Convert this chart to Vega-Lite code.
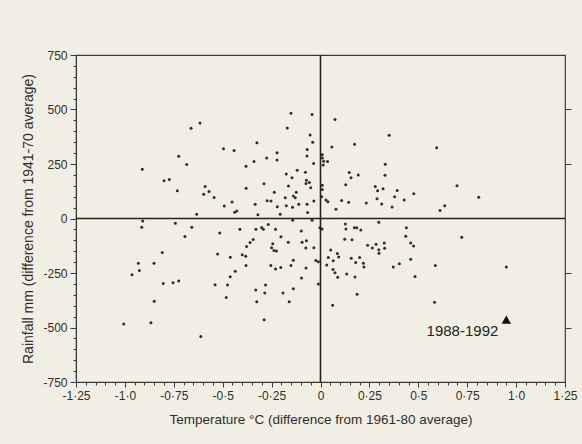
{
  "$schema": "https://vega.github.io/schema/vega-lite/v6.json",
  "width": 489,
  "height": 327,
  "autosize": "none",
  "padding": {"left": 76, "top": 55, "right": 17, "bottom": 62},
  "background": "#f1efe3",
  "config": {
    "view": {"stroke": "#3a3a3a", "strokeWidth": 1.2},
    "font": "Liberation Sans",
    "axis": {
      "domainColor": "#3a3a3a",
      "tickColor": "#3a3a3a",
      "labelColor": "#2e2e2e",
      "titleColor": "#2e2e2e",
      "labelFont": "Liberation Sans",
      "titleFont": "Liberation Sans",
      "labelFontSize": 12,
      "titleFontSize": 13.5,
      "titleFontWeight": "normal",
      "grid": false,
      "labelFlush": false,
      "labelOverlap": false
    }
  },
  "datasets": {
    "pts": [
      {"t": -0.911, "r": 226}, {"t": -0.662, "r": 414}, {"t": -0.616, "r": 438}, {"t": -0.725, "r": 286},
      {"t": -0.684, "r": 248}, {"t": -0.800, "r": 173}, {"t": -0.773, "r": 179}, {"t": -0.732, "r": 127},
      {"t": -0.590, "r": 147}, {"t": -0.570, "r": 124}, {"t": -0.597, "r": 111}, {"t": -0.544, "r": 96},
      {"t": -0.633, "r": 19}, {"t": -0.496, "r": 320}, {"t": -0.442, "r": 312}, {"t": -0.325, "r": 348},
      {"t": -0.381, "r": 240}, {"t": -0.340, "r": 262}, {"t": -0.275, "r": 277}, {"t": -0.222, "r": 302},
      {"t": -0.222, "r": 268}, {"t": -0.289, "r": 159}, {"t": -0.380, "r": 139}, {"t": -0.492, "r": 57},
      {"t": -0.452, "r": 76}, {"t": -0.439, "r": 29}, {"t": -0.428, "r": 34}, {"t": -0.334, "r": 65},
      {"t": -0.273, "r": 81}, {"t": -0.253, "r": 80}, {"t": -0.236, "r": 120}, {"t": -0.221, "r": 54},
      {"t": -0.320, "r": 17}, {"t": -0.206, "r": 19}, {"t": -0.151, "r": 483}, {"t": -0.170, "r": 415},
      {"t": -0.043, "r": 477}, {"t": -0.053, "r": 383}, {"t": -0.040, "r": 350}, {"t": -0.068, "r": 316},
      {"t": -0.069, "r": 287}, {"t": -0.035, "r": 252}, {"t": -0.175, "r": 204}, {"t": -0.119, "r": 221},
      {"t": -0.146, "r": 187}, {"t": -0.164, "r": 149}, {"t": -0.077, "r": 212}, {"t": -0.072, "r": 176},
      {"t": -0.057, "r": 165}, {"t": -0.050, "r": 141}, {"t": -0.074, "r": 160}, {"t": -0.180, "r": 95},
      {"t": -0.139, "r": 103}, {"t": -0.124, "r": 120}, {"t": -0.129, "r": 95}, {"t": -0.175, "r": 59},
      {"t": -0.143, "r": 52}, {"t": -0.111, "r": 65}, {"t": -0.069, "r": 65}, {"t": -0.066, "r": 27},
      {"t": -0.034, "r": 80},
      {"t": 0.009, "r": 293}, {"t": 0.010, "r": 277}, {"t": 0.036, "r": 262}, {"t": 0.016, "r": 263},
      {"t": 0.014, "r": 245}, {"t": 0.009, "r": 153}, {"t": 0.009, "r": 133}, {"t": 0.006, "r": 100},
      {"t": 0.074, "r": 454}, {"t": 0.351, "r": 382}, {"t": 0.174, "r": 341}, {"t": 0.058, "r": 328},
      {"t": 0.594, "r": 324}, {"t": 0.331, "r": 249}, {"t": 0.147, "r": 211}, {"t": 0.193, "r": 200},
      {"t": 0.156, "r": 187}, {"t": 0.330, "r": 198}, {"t": 0.129, "r": 155}, {"t": 0.280, "r": 147},
      {"t": 0.292, "r": 127}, {"t": 0.320, "r": 136}, {"t": 0.392, "r": 129}, {"t": 0.477, "r": 114},
      {"t": 0.379, "r": 100}, {"t": 0.289, "r": 91}, {"t": 0.428, "r": 85}, {"t": 0.028, "r": 85},
      {"t": 0.038, "r": 77}, {"t": 0.108, "r": 83}, {"t": 0.144, "r": 75}, {"t": 0.234, "r": 71},
      {"t": 0.313, "r": 66}, {"t": 0.366, "r": 53}, {"t": 0.079, "r": 43}, {"t": 0.611, "r": 37},
      {"t": 0.635, "r": 59}, {"t": 0.698, "r": 150}, {"t": 0.809, "r": 98},
      {"t": -0.909, "r": -11}, {"t": -0.914, "r": -40}, {"t": -0.742, "r": -22}, {"t": -0.658, "r": -40},
      {"t": -0.693, "r": -83}, {"t": -0.515, "r": -67}, {"t": -0.412, "r": -49}, {"t": -0.330, "r": -49},
      {"t": -0.301, "r": -41}, {"t": -0.292, "r": -49}, {"t": -0.267, "r": -27}, {"t": -0.230, "r": -49},
      {"t": -0.142, "r": -8}, {"t": -0.043, "r": -8}, {"t": -0.003, "r": -42}, {"t": -0.098, "r": -57},
      {"t": -0.202, "r": -84}, {"t": -0.165, "r": -109}, {"t": -0.344, "r": -96}, {"t": -0.360, "r": -110},
      {"t": -0.378, "r": -129}, {"t": -0.244, "r": -116}, {"t": -0.250, "r": -134}, {"t": -0.238, "r": -147},
      {"t": -0.225, "r": -149}, {"t": -0.094, "r": -109}, {"t": -0.072, "r": -102}, {"t": -0.075, "r": -135},
      {"t": -0.034, "r": -134}, {"t": -0.809, "r": -156}, {"t": -0.526, "r": -163}, {"t": -0.400, "r": -166},
      {"t": -0.382, "r": -173}, {"t": -0.461, "r": -178}, {"t": -0.381, "r": -216}, {"t": -0.254, "r": -216},
      {"t": -0.230, "r": -232}, {"t": -0.203, "r": -225}, {"t": -0.151, "r": -216}, {"t": -0.139, "r": -192},
      {"t": -0.024, "r": -193}, {"t": -0.074, "r": -227}, {"t": -0.931, "r": -205}, {"t": -0.926, "r": -239},
      {"t": -0.964, "r": -258}, {"t": -0.851, "r": -205}, {"t": -0.436, "r": -242}, {"t": -0.462, "r": -267},
      {"t": -0.097, "r": -273}, {"t": -0.804, "r": -298}, {"t": -0.754, "r": -295}, {"t": -0.725, "r": -287},
      {"t": -0.539, "r": -304}, {"t": -0.475, "r": -305}, {"t": -0.281, "r": -305}, {"t": -0.331, "r": -328},
      {"t": -0.285, "r": -342}, {"t": -0.139, "r": -322}, {"t": -0.192, "r": -342}, {"t": -0.482, "r": -362},
      {"t": -0.326, "r": -382}, {"t": -0.160, "r": -382}, {"t": -0.850, "r": -380}, {"t": -1.006, "r": -484},
      {"t": -0.867, "r": -478}, {"t": -0.288, "r": -465}, {"t": -0.612, "r": -541}, {"t": -0.011, "r": -198},
      {"t": -0.011, "r": -301},
      {"t": 0.127, "r": -25}, {"t": 0.130, "r": -48}, {"t": 0.173, "r": -43}, {"t": 0.185, "r": -43},
      {"t": 0.206, "r": -53}, {"t": 0.298, "r": -17}, {"t": 0.008, "r": -48}, {"t": 0.124, "r": -95},
      {"t": 0.161, "r": -98}, {"t": 0.439, "r": -43}, {"t": 0.436, "r": -81}, {"t": 0.461, "r": -112},
      {"t": 0.476, "r": -126}, {"t": 0.241, "r": -123}, {"t": 0.265, "r": -135}, {"t": 0.284, "r": -118},
      {"t": 0.298, "r": -143}, {"t": 0.326, "r": -112}, {"t": 0.328, "r": -136}, {"t": 0.299, "r": -159},
      {"t": 0.052, "r": -144}, {"t": 0.086, "r": -161}, {"t": 0.040, "r": -179}, {"t": 0.093, "r": -177},
      {"t": 0.065, "r": -194}, {"t": 0.032, "r": -213}, {"t": 0.157, "r": -182}, {"t": 0.200, "r": -179},
      {"t": 0.180, "r": -202}, {"t": 0.219, "r": -205}, {"t": 0.222, "r": -223}, {"t": 0.461, "r": -187},
      {"t": 0.403, "r": -207}, {"t": 0.372, "r": -223}, {"t": 0.587, "r": -216}, {"t": 0.064, "r": -234},
      {"t": 0.074, "r": -249}, {"t": 0.088, "r": -269}, {"t": 0.134, "r": -255}, {"t": 0.176, "r": -268},
      {"t": 0.483, "r": -266}, {"t": 0.187, "r": -347}, {"t": 0.062, "r": -398}, {"t": 0.583, "r": -384},
      {"t": 0.722, "r": -86}, {"t": 0.950, "r": -222}
    ],
    "period": [{"t": 0.95, "r": -464, "label": "1988-1992"}],
    "origin": [{"t": 0, "r": 0}]
  },
  "layer": [
    {
      "data": {"name": "pts"},
      "mark": {"type": "circle", "size": 9, "color": "#2e2e2e", "opacity": 1},
      "encoding": {
        "x": {
          "field": "t", "type": "quantitative",
          "scale": {"domain": [-1.25, 1.25], "nice": false, "zero": false},
          "axis": {
            "orient": "bottom",
            "title": "Temperature °C (difference from 1961-80 average)",
            "values": [-1.25, -1, -0.75, -0.5, -0.25, 0, 0.25, 0.5, 0.75, 1, 1.25],
            "labelExpr": "datum.value == 0 ? '0' : (abs(datum.value) == 1 ? (datum.value < 0 ? '-1·0' : '1·0') : replace(toString(datum.value), '.', '·'))",
            "tickSize": 5,
            "labelPadding": 3,
            "titlePadding": 11
          }
        },
        "y": {
          "field": "r", "type": "quantitative",
          "scale": {"domain": [-750, 750], "nice": false, "zero": false},
          "axis": {
            "orient": "left",
            "title": "Rainfall mm (difference from 1941-70 average)",
            "titleFontSize": 14,
            "values": [-750, -500, -250, 0, 250, 500, 750],
            "labelExpr": "toString(datum.value)",
            "tickSize": 6,
            "labelPadding": 3,
            "titlePadding": 7
          }
        }
      }
    },
    {
      "data": {"name": "origin"},
      "mark": {"type": "rule", "color": "#222222", "strokeWidth": 1.6},
      "encoding": {
        "x": {
          "field": "t", "type": "quantitative",
          "axis": {
            "orient": "bottom", "title": null, "labels": false, "domain": false, "tickSize": 3,
            "values": [-1.2, -1.15, -1.1, -1.05, -0.95, -0.9, -0.85, -0.8, -0.7, -0.65, -0.6, -0.55, -0.45, -0.4, -0.35, -0.3, -0.2, -0.15, -0.1, -0.05, 0.05, 0.1, 0.15, 0.2, 0.3, 0.35, 0.4, 0.45, 0.55, 0.6, 0.65, 0.7, 0.8, 0.85, 0.9, 0.95, 1.05, 1.1, 1.15, 1.2]
          }
        }
      }
    },
    {
      "data": {"name": "origin"},
      "mark": {"type": "rule", "color": "#222222", "strokeWidth": 1.6},
      "encoding": {
        "y": {
          "field": "r", "type": "quantitative",
          "axis": {
            "orient": "left", "title": null, "labels": false, "domain": false, "tickSize": 3,
            "values": [-700, -650, -600, -550, -450, -400, -350, -300, -200, -150, -100, -50, 50, 100, 150, 200, 300, 350, 400, 450, 550, 600, 650, 700]
          }
        }
      }
    },
    {
      "data": {"name": "period"},
      "mark": {"type": "point", "shape": "triangle-up", "filled": true, "size": 90, "color": "#111111", "opacity": 1},
      "encoding": {
        "x": {"field": "t", "type": "quantitative", "axis": null},
        "y": {
          "field": "r", "type": "quantitative",
          "axis": {"orient": "right", "values": [-500, -250, 250, 500], "labels": false, "title": null, "tickSize": 6, "domain": false}
        }
      }
    },
    {
      "data": {"name": "period"},
      "mark": {"type": "text", "align": "right", "baseline": "alphabetic", "dx": -8, "dy": 16, "fontSize": 15, "font": "Liberation Sans", "color": "#222222"},
      "encoding": {
        "x": {"field": "t", "type": "quantitative", "axis": null},
        "y": {"field": "r", "type": "quantitative", "axis": null},
        "text": {"field": "label"}
      }
    }
  ],
  "resolve": {"axis": {"x": "independent", "y": "independent"}}
}
